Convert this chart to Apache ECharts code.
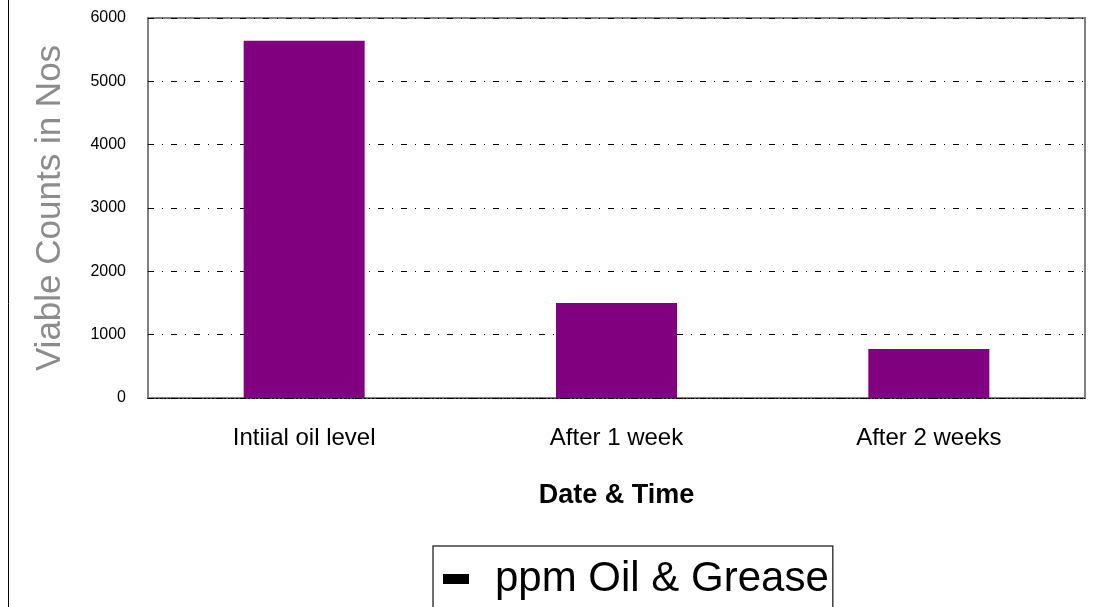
<!DOCTYPE html>
<html>
<head>
<meta charset="utf-8">
<script src="https://cdn.jsdelivr.net/npm/echarts@6/dist/echarts.min.js"></script>
<style>
  html, body { margin: 0; padding: 0; background: #fff; }
  #chart { width: 1100px; height: 607px; }
</style>
</head>
<body>
<div id="chart"></div>
<script>
const categories = ["Intiial oil level", "After 1 week", "After 2 weeks"];
const oilGrease = [5640, 1500, 775];
const seriesName = "ppm Oil & Grease";

const chart = echarts.init(document.getElementById("chart"));

const option = {
  backgroundColor: "#fff",
  animation: false,
  grid: { left: 148, right: 15, top: 18, bottom: 209, show: true, borderColor: "#808080", borderWidth: 2, backgroundColor: "#fff" },
  legend: {
    data: [{ name: seriesName, icon: "rect", itemStyle: { color: "#000" } }],
    left: 433,
    top: 546,
    padding: [12, 4, 30, 10],
    borderColor: "#404040",
    borderWidth: 1.5,
    borderRadius: 0,
    itemWidth: 26,
    itemHeight: 10,
    textStyle: { fontFamily: "Liberation Sans", fontSize: 42, color: "#000", padding: [0, 0, 0, 21] }
  },
  xAxis: {
    type: "category",
    data: categories,
    name: "Date & Time",
    nameLocation: "middle",
    nameGap: 84,
    nameTextStyle: { fontFamily: "Liberation Sans", fontSize: 27, fontWeight: "bold", color: "#000" },
    axisLine: { show: true, lineStyle: { color: "#000", width: 1, type: [2, 2] } },
    axisTick: { show: false },
    axisLabel: { fontFamily: "Liberation Sans", fontSize: 24, color: "#000", margin: 28 }
  },
  yAxis: {
    type: "value",
    min: 0,
    max: 6000,
    interval: 1000,
    name: "Viable Counts in Nos",
    nameLocation: "middle",
    nameGap: 80,
    nameTextStyle: { fontFamily: "Liberation Sans", fontSize: 35, color: "#8c8c8c" },
    axisLine: { show: false },
    axisTick: { show: false },
    axisLabel: { fontFamily: "Liberation Sans", fontSize: 16, color: "#000", margin: 22, formatter: (v) => String(v) },
    splitLine: { lineStyle: { color: "#000", width: 1, type: [6, 8, 1, 8] } }
  },
  series: [
    {
      name: seriesName,
      type: "bar",
      data: oilGrease,
      barWidth: 121,
      itemStyle: { color: "#800080" }
    }
  ],
  graphic: [
    { type: "line", shape: { x1: 8.5, y1: 0, x2: 8.5, y2: 607 }, style: { stroke: "#000", lineWidth: 1 } }
  ]
};

chart.setOption(option);
</script>
</body>
</html>
